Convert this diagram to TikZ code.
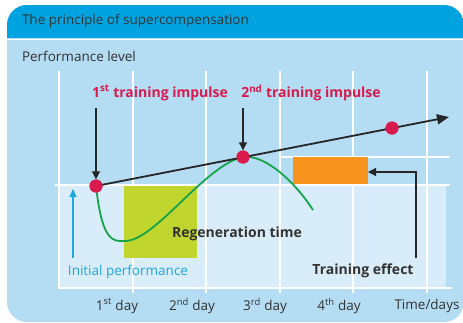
\documentclass[tikz,border=0pt]{standalone}
\usepackage{fontspec}
\setmainfont{Open Sans}
\usetikzlibrary{arrows.meta}
\definecolor{headblue}{HTML}{00A3DF}
\definecolor{bodyblue}{HTML}{B4DCF3}
\definecolor{lowblue}{HTML}{D8ECF9}
\definecolor{impred}{HTML}{D91A4C}
\definecolor{curvegreen}{HTML}{17A34A}
\definecolor{limegreen}{HTML}{C0D62F}
\definecolor{effectorange}{HTML}{F7941E}
\definecolor{initcyan}{HTML}{1EA7E1}
\definecolor{textgray}{HTML}{333333}

\begin{document}
\begin{tikzpicture}[x=1pt,y=-1pt,
  gridline/.style={white,line width=1.3pt},
  impulse/.style={text=impred,font=\bfseries\fontsize{14}{16}\selectfont},
  txt/.style={text=textgray,font=\fontsize{13.5}{15}\selectfont},
  boldtxt/.style={text=textgray,font=\bfseries\fontsize{14}{16}\selectfont},
  dot/.style={circle,fill=impred,inner sep=0pt,minimum size=13pt},
  pointer/.style={-{Triangle[length=8pt,width=8pt]},line width=1.1pt,black!85}]

\newcommand\sth[1]{\textsuperscript{#1}}

\useasboundingbox (0,0) rectangle (463,322);

% rounded panel with its title bar
\begin{scope}
  \clip[rounded corners=20pt] (7,5) rectangle (464,322);
  \fill[bodyblue] (7,5) rectangle (464,322);
  \fill[headblue] (7,5) rectangle (464,38);
  \draw[white,line width=1.5pt] (7,39.5) -- (464,39.5);
\end{scope}
\node[txt,anchor=west] (title) at (18.5,21) {The principle of supercompensation};
\node[txt,anchor=west] (ylabel) at (18.5,56) {Performance level};

% area below the starting level
\fill[lowblue] (59,185) rectangle (446,288);

% grid: one line per day, with a tick below the axis
\draw[gridline] (59,71) -- (59,288) -- (452,288);
\foreach \x in {133,206,280,353,427} { \draw[gridline] (\x,71) -- (\x,293); }
\draw[gridline] (55,185) -- (450,185);
\draw[gridline] (280,157) -- (450,157);

% day labels under the axis
\foreach \x/\t [count=\i] in {117/{1\sth{st} day},192/{2\sth{nd} day},265/{3\sth{rd} day},
                              339/{4\sth{th} day},427/{Time/days}}
  { \node[txt] (day\i) at (\x,306) {\t}; }

% regeneration and training effect blocks
\fill[limegreen] (124,186) rectangle (197,258);
\fill[effectorange] (293,157) rectangle (368,184);

% performance curve after the impulses
\draw[curvegreen,line width=1.8pt] (96,186)
  .. controls (102,240) and (112,242) .. (125,241)
  .. controls (155,241) and (205,165) .. (243,157)
  .. controls (265,154) and (295,182) .. (313,210);

% trend line through the impulses
\node[dot] (P1) at (96,186) {};
\node[dot] (P2) at (243,157) {};
\node[dot] (P3) at (392,128) {};
\coordinate (trend) at (449,117);
\draw[line width=1.8pt,black!85,-{Triangle[length=12pt,width=10pt]}] (P1.center) -- (trend);
\node[dot] at (P1) {};
\node[dot] at (P2) {};
\node[dot] at (P3) {};

% impulse labels and their arrows
\node[impulse] (imp1) at (160,93) {1\sth{st} training impulse};
\node[impulse] (imp2) at (311,93) {2\sth{nd} training impulse};
\coordinate (a1) at (96,108);
\coordinate (a2) at (243,108);
\draw[pointer] (a1) -- (P1.north);
\draw[pointer] (a2) -- (P2.north);

% regeneration text
\node[boldtxt] (regen) at (237,234) {Regeneration time};

% initial performance marker
\coordinate (c0) at (73,258);
\coordinate (c1) at (73,189);
\draw[initcyan,line width=1.1pt,-{Triangle[length=8pt,width=7pt]}] (c0) -- (c1);
\node[text=initcyan,font=\fontsize{13.5}{15}\selectfont] (init) at (128,272) {Initial performance};

% training effect arrow
\node[boldtxt] (effect) at (363,271) {Training effect};
\coordinate (e0) at (416,258);
\coordinate (e1) at (368,172);
\draw[pointer] (e0) |- (e1);
\end{tikzpicture}
\end{document}
